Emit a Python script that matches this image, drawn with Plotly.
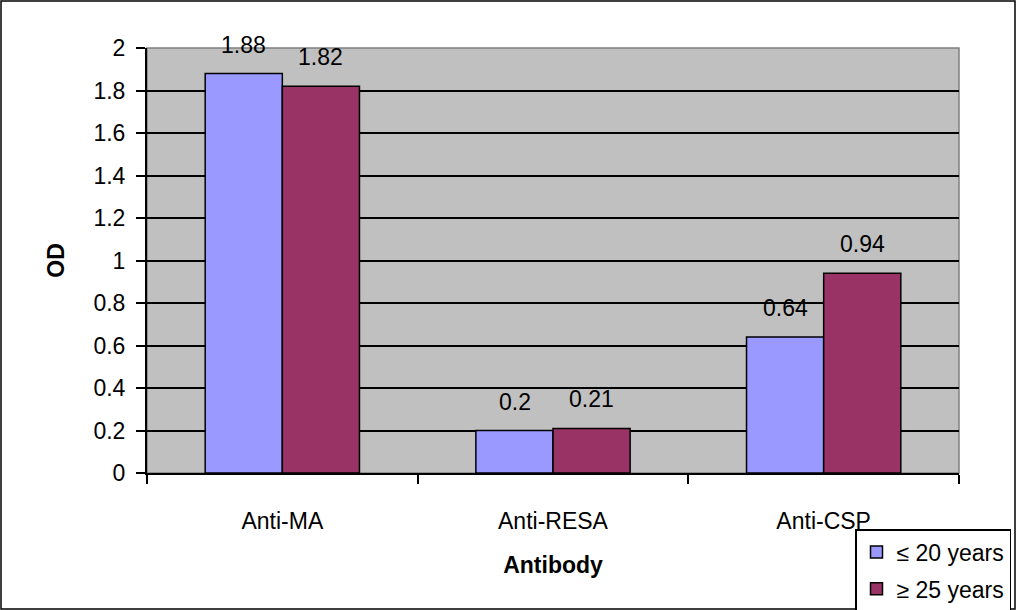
import plotly.graph_objects as go

categories = ["Anti-MA", "Anti-RESA", "Anti-CSP"]
young = [1.88, 0.2, 0.64]
old = [1.82, 0.21, 0.94]
series_names = ["≤ 20 years", "≥ 25 years"]
y_ticks = [0, 0.2, 0.4, 0.6, 0.8, 1, 1.2, 1.4, 1.6, 1.8, 2]
y_tick_text = ["0", "0.2", "0.4", "0.6", "0.8", "1", "1.2", "1.4", "1.6", "1.8", "2"]

W, H = 1016, 610
L, R, T, B = 147, 57, 48, 137
pw, ph = W - L - R, H - T - B
FONT = "Liberation Sans, Arial, sans-serif"
FS = 23

fig = go.Figure()
series = [(series_names[0], young, "#9999FF", -1), (series_names[1], old, "#993366", 1)]
for i, (name, vals, col, side) in enumerate(series):
    fig.add_trace(go.Bar(
        x=categories, y=vals, name=name,
        marker=dict(color=col, line=dict(color="black", width=1.5)),
        legendgroup="g%d" % i,
    ))
    for c, v in zip(categories, vals):
        fig.add_annotation(x=c, y=v, text=str(v), showarrow=False,
                           xshift=side * 38.5, yshift=29, yanchor="middle",
                           font=dict(size=FS, family=FONT, color="black"))

fig.update_layout(
    width=W, height=H,
    margin=dict(l=L, r=R, t=T, b=B, autoexpand=False),
    paper_bgcolor="white", plot_bgcolor="#C0C0C0",
    barmode="group", bargap=0.43, bargroupgap=0,
    font=dict(family=FONT, size=FS, color="black"),
    showlegend=True,
    legend=dict(
        x=(855 - L) / pw, y=-(529 - (H - B)) / ph,
        xanchor="left", yanchor="top",
        bgcolor="white", bordercolor="black", borderwidth=1.5,
        font=dict(size=FS, family=FONT, color="black"),
        traceorder="grouped", tracegroupgap=4,
        itemwidth=30,
    ),
    xaxis=dict(
        showline=True, linecolor="black", linewidth=2,
        ticks="outside", tickson="boundaries", ticklen=9, tickcolor="black", tickwidth=1.5,
        tickfont=dict(size=FS, family=FONT), ticklabelstandoff=26,
        title=dict(text="<b>Antibody</b>", font=dict(size=FS, family=FONT), standoff=24),
        showgrid=False,
    ),
    yaxis=dict(
        range=[0, 2], tickvals=y_ticks, ticktext=y_tick_text,
        showline=True, linecolor="black", linewidth=2,
        ticks="outside", ticklen=9, tickcolor="black", tickwidth=1.5,
        tickfont=dict(size=FS, family=FONT), ticklabelstandoff=6,
        showgrid=True, gridcolor="black", gridwidth=1.5, zeroline=False,
        title=dict(text="<b>OD</b>", font=dict(size=FS, family=FONT), standoff=22),
    ),
)

fig.add_shape(type="rect", xref="paper", yref="paper", x0=0, x1=1, y0=0, y1=1,
              line=dict(color="#808080", width=1.5), layer="below")
fig.add_shape(type="rect", xref="paper", yref="paper",
              x0=-(L - 1) / pw, x1=1 + (R - 1) / pw,
              y0=-(B - 1) / ph, y1=1 + (T - 1) / ph,
              line=dict(color="black", width=1.5))

fig.write_html("out.html")
